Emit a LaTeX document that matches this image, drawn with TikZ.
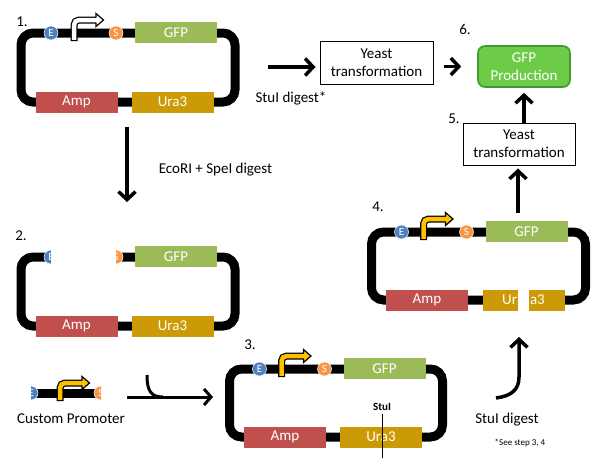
\documentclass[tikz,border=0pt]{standalone}
\usepackage{fontspec}
\setmainfont{Carlito}
\usetikzlibrary{arrows.meta}
\definecolor{gfpc}{HTML}{9BBB59}
\definecolor{ampc}{HTML}{C0504D}
\definecolor{urac}{HTML}{CC9A06}
\definecolor{ecol}{HTML}{4F81BD}
\definecolor{scol}{HTML}{F79646}
\definecolor{promy}{HTML}{FFC000}
\definecolor{prodfill}{HTML}{6CCB47}
\definecolor{prodline}{HTML}{3E9A2E}
\newcommand\fs[2]{\fontsize{#1}{#2}\selectfont}
% #1 stem x, #2 line y, #3 fill colour, #4 band height above line
\newcommand\prom[4]{%
  \draw[line width=7, rounded corners=5] (#1,#2+8) -- (#1,#2-#4) -- (#1+24,#2-#4);
  \draw[#3, line width=4.5, rounded corners=5] (#1,#2+6.8) -- (#1,#2-#4) -- (#1+25,#2-#4);
  \fill[#3] (#1+22,#2-#4-6.5) -- (#1+29.5,#2-#4) -- (#1+22,#2-#4+6.5) -- cycle;
  \draw[line width=1.2, line join=miter] (#1+22,#2-#4-2.5) -- (#1+22,#2-#4-6.5) -- (#1+29.5,#2-#4) -- (#1+22,#2-#4+6.5) -- (#1+22,#2-#4+2.5);
}
\begin{document}
\begin{tikzpicture}[x=1pt,y=-1pt,
  frame/.style={line width=9, rounded corners=12},
  gene/.style={minimum width=82, minimum height=21, inner sep=0, text=white, font=\fs{15}{18}},
  site/.style={circle, minimum size=14, inner sep=0, text=white, draw=white, line width=0.5, font=\fs{11}{12}},
  lab/.style={font=\fs{15}{18}, inner sep=0},
  ybox/.style={draw, line width=1, minimum width=113, minimum height=43, align=center, inner sep=0, font=\fs{15}{18}},
  prodbox/.style={draw=prodline, fill=prodfill, line width=1.6, rounded corners=7, minimum width=92, minimum height=41, align=center, inner sep=0, text=white, font=\fs{15}{18}},
  bigarrow/.style={line width=3.5, -{Straight Barb[length=8,width=17]}},
]
\useasboundingbox (0,0) rectangle (610,458);

% ---------- plasmid 1
\begin{scope}[shift={(21,33)}]
  \draw[frame] (0,0) rectangle (214,69);
  \node[gene,fill=gfpc] (p1gfp) at (155,-0.5) {GFP};
  \node[gene,fill=ampc] (p1amp) at (55.5,69) {Amp};
  \node[gene,fill=urac] (p1ura) at (151.5,69) {Ura3};
  \node[site,fill=ecol] (p1e) at (30,0) {E};
  \node[site,fill=scol] (p1s) at (95,0) {S};
  \prom{53}{0}{white}{13}
\end{scope}
\node[lab] (n1) at (22,22) {1.};

% ---------- plasmid 2
\begin{scope}[shift={(21,257)}]
  \draw[frame] (0,0) rectangle (214,69);
  \node[site,fill=ecol] (p2e) at (30,0) {E};
  \node[site,fill=scol] (p2s) at (95,0) {S};
  \fill[white] (30,-8) rectangle (95,8);
  \node[gene,fill=gfpc] (p2gfp) at (155,-0.5) {GFP};
  \node[gene,fill=ampc] (p2amp) at (55.5,69) {Amp};
  \node[gene,fill=urac] (p2ura) at (151.5,69) {Ura3};
\end{scope}
\node[lab] (n2) at (21,236) {2.};

% ---------- custom promoter
\draw[line width=9] (33,393) -- (99,393);
\begin{scope}
  \clip (31,380) rectangle (40,406);
  \node[site,fill=ecol] (cpe) at (31,393) {E};
\end{scope}
\begin{scope}
  \clip (91,380) rectangle (101,406);
  \node[site,fill=scol] (cps) at (101,393) {S};
\end{scope}
\prom{60}{393}{promy}{10}
\node[lab] (cp) at (71,419) {Custom Promoter};

% ---------- plasmid 3
\begin{scope}[shift={(229.5,369)}]
  \draw[frame] (0,0) rectangle (213,68);
  \node[gene,fill=gfpc] (p3gfp) at (155,-0.5) {GFP};
  \node[gene,fill=ampc] (p3amp) at (55.5,68) {Amp};
  \node[gene,fill=urac] (p3ura) at (151.5,68) {Ura3};
  \node[site,fill=ecol] (p3e) at (30,0) {E};
  \node[site,fill=scol] (p3s) at (95,0) {S};
  \prom{52}{0}{promy}{13}
\end{scope}
\node[lab] (n3) at (250,345) {3.};
\node[font=\fs{11}{12}\bfseries, inner sep=0] (stu) at (382,407) {StuI};
\coordinate (stuend) at (382,458);
\draw[line width=1] (stu.south) ++(0,3) coordinate (stutop) (stutop) -- (stuend);

% ---------- plasmid 4
\begin{scope}[shift={(371.5,232)}]
  \draw[frame] (0,0) rectangle (214,68);
  \fill[white] (146.5,62) rectangle (157.5,74);
  \node[gene,fill=gfpc] (p4gfp) at (155,-0.5) {GFP};
  \node[gene,fill=ampc] (p4amp) at (55.5,68) {Amp};
  \node[gene,fill=urac, minimum width=35, text width=33, align=right] (p4ura1) at (129,68) {Ur};
  \node[gene,fill=urac, minimum width=36, text width=34, align=left] (p4ura2) at (175.5,68) {a3};
  \node[site,fill=ecol] (p4e) at (30,0) {E};
  \node[site,fill=scol] (p4s) at (95,0) {S};
  \prom{52}{0}{promy}{13}
\end{scope}
\node[lab] (n4) at (378,207) {4.};

% ---------- boxes
\node[ybox] (y1) at (376.5,62.5) {Yeast\\transformation};
\node[prodbox] (prod) at (524,66.5) {GFP\\Production};
\node[ybox, minimum width=112, minimum height=42] (y5) at (519,144) {Yeast\\transformation};
\node[lab] (n5) at (454,119) {5.};
\node[lab] (n6) at (465,29) {6.};

% ---------- labels
\node[lab] (l1) at (291,98) {StuI digest*};
\node[lab] (l2) at (215.5,170) {EcoRI + SpeI digest};
\node[lab] (l3) at (507,420) {StuI digest};
\node[font=\fs{9}{10}, inner sep=0] (l4) at (520,443) {*See step 3, 4};

% ---------- arrows
\coordinate (a1s) at (127,127);
\coordinate (a1e) at (127,202);
\draw[bigarrow] (a1s) -- (a1e);

\coordinate (a2s) at (268,67);
\draw[bigarrow, shorten >=4] (a2s) -- (a2s -| y1.west);

\draw[bigarrow, shorten <=10, shorten >=16] (y1.east |- prod.west) -- (prod.west);

\draw[bigarrow, shorten >=5] (prod.south |- y5.north) -- (prod.south);

\coordinate (a4s) at (518,213);
\draw[bigarrow, shorten >=3] (a4s) -- (a4s |- y5.south);

\coordinate (a5s) at (127,397);
\coordinate (a5e) at (213,397);
\coordinate (a5c) at (147,375);
\draw[line width=3, -{Straight Barb[length=7,width=16]}] (a5s) -- (a5e);
\draw[line width=3] (a5c) .. controls (147,391) and (151,397) .. (163,397);

\coordinate (a6s) at (496,398);
\coordinate (a6e) at (519,337);
\draw[bigarrow] (a6s) .. controls (511,396) and (519,390) .. (519,377) -- (a6e);
\end{tikzpicture}
\end{document}
